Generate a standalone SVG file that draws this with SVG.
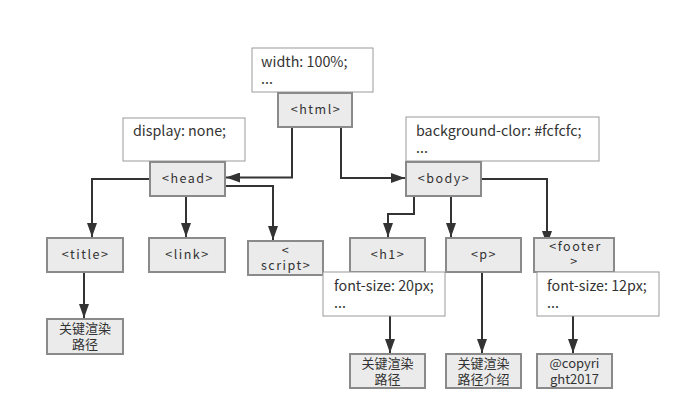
<svg xmlns="http://www.w3.org/2000/svg" width="692" height="420" viewBox="0 0 692 420">
<defs>
<style>
.node rect{fill:#ebebeb;stroke:#8a8a8a;stroke-width:2}
.note rect{fill:#fff;stroke:#9a9a9a;stroke-width:1}
.lbl{font-family:"Noto Sans CJK SC","Noto Sans",sans-serif;font-size:12.5px;fill:#333;text-anchor:middle;letter-spacing:1.5px}
.cjk{font-family:"Noto Sans CJK SC","Noto Sans",sans-serif;font-size:13px;fill:#333;text-anchor:middle}
.nt{font-family:"Noto Sans CJK SC","Noto Sans",sans-serif;font-size:14.3px;fill:#333}
.conn path{fill:none;stroke:#333;stroke-width:2}
</style>
<marker id="arr" viewBox="0 0 14 10" refX="14" refY="5" markerWidth="14" markerHeight="10" markerUnits="userSpaceOnUse" orient="auto">
<path d="M0,0 L14,5 L0,10 z" fill="#333"/>
</marker>
</defs>
<rect width="692" height="420" fill="#fff"/>
<g id="connectors" class="conn">
<path d="M292,127 V177.5 H226" marker-end="url(#arr)"/>
<path d="M341,127 V178 H405" marker-end="url(#arr)"/>
<path d="M150,179 H92 V237" marker-end="url(#arr)"/>
<path d="M186,196 V237" marker-end="url(#arr)"/>
<path d="M225,186 H273 V240" marker-end="url(#arr)"/>
<path d="M414,196 V214 H388 V237" marker-end="url(#arr)"/>
<path d="M451,196 V237" marker-end="url(#arr)"/>
<path d="M481,179 H547 V245" marker-end="url(#arr)"/>
<path d="M84,272 V318" marker-end="url(#arr)"/>
<path d="M390,316 V353" marker-end="url(#arr)"/>
<path d="M482,272 V353" marker-end="url(#arr)"/>
<path d="M573,316 V353" marker-end="url(#arr)"/>
</g>
<g id="note-html" class="note"><rect x="252" y="48" width="121" height="44"/><text class="nt" x="261" y="67">width: 100%;</text><text class="nt" x="261" y="84">...</text></g>
<g id="node-html" class="node"><rect x="278" y="93" width="74" height="34"/><text class="lbl" x="316" y="114">&lt;html&gt;</text></g>
<g id="note-head" class="note"><rect x="123" y="118" width="122" height="43"/><text class="nt" x="133" y="136">display: none;</text></g>
<g id="node-head" class="node"><rect x="150" y="162" width="75" height="34"/><text class="lbl" x="188" y="183">&lt;head&gt;</text></g>
<g id="note-body" class="note"><rect x="406" y="117" width="193" height="44"/><text class="nt" x="416" y="136">background-clor: #fcfcfc;</text><text class="nt" x="416" y="153">...</text></g>
<g id="node-body" class="node"><rect x="406" y="162" width="75" height="34"/><text class="lbl" x="444" y="183">&lt;body&gt;</text></g>
<g id="node-title" class="node"><rect x="47" y="238" width="76" height="34"/><text class="lbl" x="85.5" y="259">&lt;title&gt;</text></g>
<g id="node-link" class="node"><rect x="149" y="238" width="76" height="34"/><text class="lbl" x="187.5" y="259">&lt;link&gt;</text></g>
<g id="node-script" class="node"><rect x="248" y="241" width="75" height="34"/><text class="lbl" x="286" y="255">&lt;</text><text class="lbl" x="286" y="270">script&gt;</text></g>
<g id="node-h1" class="node"><rect x="350" y="238" width="75" height="34"/><text class="lbl" x="388" y="259">&lt;h1&gt;</text></g>
<g id="node-p" class="node"><rect x="446" y="238" width="75" height="34"/><text class="lbl" x="484" y="259">&lt;p&gt;</text></g>
<g id="node-footer" class="node"><rect x="534" y="238" width="80" height="34"/><text class="lbl" x="575.5" y="251">&lt;footer</text><text class="lbl" x="574.5" y="266">&gt;</text></g>
<g id="note-h1" class="note"><rect x="323" y="272" width="122" height="44"/><text class="nt" x="334" y="291">font-size: 20px;</text><text class="nt" x="334" y="308">...</text></g>
<g id="note-footer" class="note"><rect x="537" y="272" width="122" height="44"/><text class="nt" x="547" y="291">font-size: 12px;</text><text class="nt" x="547" y="308">...</text></g>
<g id="node-title-text" class="node"><rect x="47" y="319" width="76" height="35"/><text class="cjk" x="85" y="333">关键渲染</text><text class="cjk" x="85" y="349">路径</text></g>
<g id="node-h1-text" class="node"><rect x="350" y="354" width="75" height="34"/><text class="cjk" x="387.5" y="368">关键渲染</text><text class="cjk" x="387.5" y="384">路径</text></g>
<g id="node-p-text" class="node"><rect x="446" y="354" width="75" height="34"/><text class="cjk" x="483.5" y="368">关键渲染</text><text class="cjk" x="483.5" y="384">路径介绍</text></g>
<g id="node-footer-text" class="node"><rect x="537" y="354" width="75" height="34"/><text class="cjk" x="574.5" y="368">@copyri</text><text class="cjk" x="574.5" y="384">ght2017</text></g>
</svg>
